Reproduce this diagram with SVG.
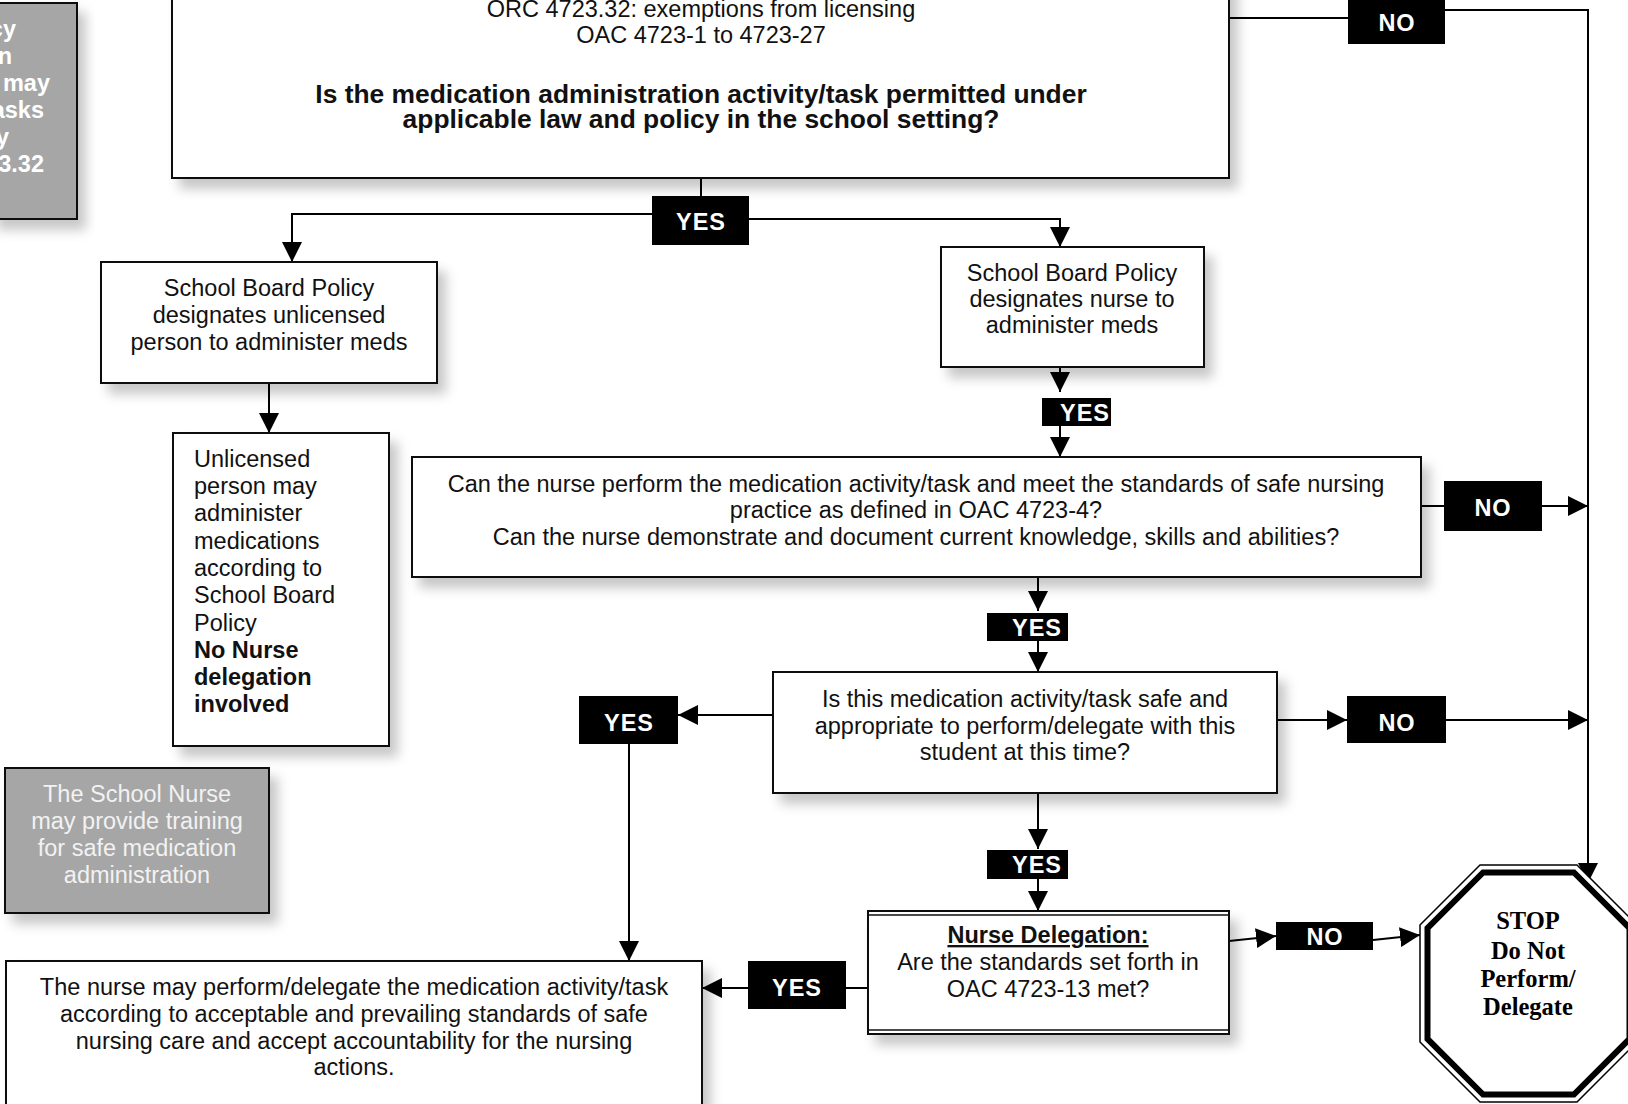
<svg xmlns="http://www.w3.org/2000/svg" width="1628" height="1104" viewBox="0 0 1628 1104">
<defs>
<style>
.box{fill:#fff;stroke:#111;stroke-width:2;filter:url(#sh)}
.grey{fill:#a6a6a6;stroke:#111;stroke-width:2;filter:url(#sh)}
.lbl{fill:#000}
.lt{font-family:"Liberation Sans",Arial,sans-serif;font-weight:bold;font-size:23.5px;fill:#fff;text-anchor:middle;letter-spacing:1px}
.t{font-family:"Liberation Sans",Arial,sans-serif;font-size:23.5px;fill:#111;text-anchor:middle}
.tl{text-anchor:start}
.te{text-anchor:end}
.b{font-weight:bold}
.w{fill:#fff}
.big{font-size:26.4px}
.stop{font-family:"Liberation Serif","Times New Roman",serif;font-weight:bold;font-size:24.5px;fill:#000;text-anchor:middle}
.conn path{stroke:#000;stroke-width:2;fill:none}
.arr{marker-end:url(#ah)}
</style>
<marker id="ah" markerUnits="userSpaceOnUse" markerWidth="20" markerHeight="20" viewBox="0 0 20 20" refX="20" refY="10" orient="auto"><path d="M0,0L20,10L0,20z" fill="#000"/></marker>
<filter id="sh" x="-10%" y="-10%" width="130%" height="140%"><feDropShadow dx="8" dy="10" stdDeviation="6" flood-color="#000" flood-opacity="0.22"/></filter>
</defs>
<rect width="1628" height="1104" fill="#fff"/>

<g id="connectors" class="conn">
<path d="M701,178V196"/>
<path class="arr" d="M652,214H292V262"/>
<path class="arr" d="M749,219H1060V247"/>
<path d="M1229,18H1348"/>
<path class="arr" d="M1445,10H1588V883"/>
<path class="arr" d="M269,383V433"/>
<path class="arr" d="M1060,367V392"/>
<path class="arr" d="M1060,426V457"/>
<path d="M1421,506H1444"/>
<path class="arr" d="M1542,506H1588"/>
<path class="arr" d="M1038,577V611"/>
<path class="arr" d="M1038,641V672"/>
<path class="arr" d="M773,715H678"/>
<path class="arr" d="M1277,720H1347"/>
<path class="arr" d="M1446,720H1588"/>
<path class="arr" d="M629,744V961"/>
<path class="arr" d="M1038,793V849"/>
<path class="arr" d="M1038,879V911"/>
<path d="M868,988H846"/>
<path class="arr" d="M748,988H702"/>
<path class="arr" d="M1229,941L1276,936"/>
<path class="arr" d="M1373,940L1420,935"/>
</g>

<g id="note-policy">
<rect class="grey" x="-10" y="3" width="87" height="216"/>
<text class="t te b w" x="16" y="37">cy</text>
<text class="t te b w" x="12" y="64">n</text>
<text class="t te b w" x="50" y="91">may</text>
<text class="t te b w" x="44" y="118">asks</text>
<text class="t te b w" x="9" y="145">y</text>
<text class="t te b w" x="44" y="172">3.32</text>
</g>

<g id="law-question">
<rect class="box" x="172" y="-20" width="1057" height="198"/>
<text class="t" x="701" y="17">ORC 4723.32: exemptions from licensing</text>
<text class="t" x="701" y="43">OAC 4723-1 to 4723-27</text>
<text class="t b big" x="701" y="103">Is the medication administration activity/task permitted under</text>
<text class="t b big" x="701" y="128">applicable law and policy in the school setting?</text>
</g>

<g id="label-yes-1"><rect class="lbl" x="652" y="196" width="97" height="49"/><text class="lt" x="701" y="230">YES</text></g>
<g id="label-no-1"><rect class="lbl" x="1348" y="0" width="97" height="44"/><text class="lt" x="1397" y="31">NO</text></g>

<g id="policy-unlicensed">
<rect class="box" x="101" y="262" width="336" height="121"/>
<text class="t" x="269" y="296">School Board Policy</text>
<text class="t" x="269" y="323">designates unlicensed</text>
<text class="t" x="269" y="350">person to administer meds</text>
</g>

<g id="unlicensed-result">
<rect class="box" x="173" y="433" width="216" height="313"/>
<text class="t tl" x="194" y="467">Unlicensed</text>
<text class="t tl" x="194" y="494">person may</text>
<text class="t tl" x="194" y="521">administer</text>
<text class="t tl" x="194" y="549">medications</text>
<text class="t tl" x="194" y="576">according to</text>
<text class="t tl" x="194" y="603">School Board</text>
<text class="t tl" x="194" y="631">Policy</text>
<text class="t tl b" x="194" y="658">No Nurse</text>
<text class="t tl b" x="194" y="685">delegation</text>
<text class="t tl b" x="194" y="712">involved</text>
</g>

<g id="policy-nurse">
<rect class="box" x="941" y="247" width="263" height="120"/>
<text class="t" x="1072" y="281">School Board Policy</text>
<text class="t" x="1072" y="307">designates nurse to</text>
<text class="t" x="1072" y="333">administer meds</text>
</g>

<g id="label-yes-2"><rect class="lbl" x="1042" y="398" width="69" height="28"/><text class="lt" x="1085" y="421">YES</text></g>

<g id="nurse-competence">
<rect class="box" x="412" y="457" width="1009" height="120"/>
<text class="t" x="916" y="492">Can the nurse perform the medication activity/task and meet the standards of safe nursing</text>
<text class="t" x="916" y="518">practice as defined in OAC 4723-4?</text>
<text class="t" x="916" y="545">Can the nurse demonstrate and document current knowledge, skills and abilities?</text>
</g>

<g id="label-no-2"><rect class="lbl" x="1444" y="481" width="98" height="50"/><text class="lt" x="1493" y="516">NO</text></g>
<g id="label-yes-3"><rect class="lbl" x="987" y="613" width="81" height="28"/><text class="lt" x="1037" y="636">YES</text></g>

<g id="safety-question">
<rect class="box" x="773" y="672" width="504" height="121" stroke-width="2.5"/>
<text class="t" x="1025" y="707">Is this medication activity/task safe and</text>
<text class="t" x="1025" y="734">appropriate to perform/delegate with this</text>
<text class="t" x="1025" y="760">student at this time?</text>
</g>

<g id="label-yes-4"><rect class="lbl" x="579" y="696" width="99" height="48"/><text class="lt" x="629" y="731">YES</text></g>
<g id="label-no-3"><rect class="lbl" x="1347" y="696" width="99" height="47"/><text class="lt" x="1397" y="731">NO</text></g>
<g id="label-yes-5"><rect class="lbl" x="987" y="850" width="81" height="29"/><text class="lt" x="1037" y="873">YES</text></g>

<g id="training-note">
<rect class="grey" x="5" y="768" width="264" height="145"/>
<text class="t" x="137" y="802" style="fill:#f2f2f2">The School Nurse</text>
<text class="t" x="137" y="829" style="fill:#f2f2f2">may provide training</text>
<text class="t" x="137" y="856" style="fill:#f2f2f2">for safe medication</text>
<text class="t" x="137" y="883" style="fill:#f2f2f2">administration</text>
</g>

<g id="nurse-delegation">
<rect class="box" x="868" y="911" width="361" height="123"/>
<path d="M868,915H1229M868,1030H1229" stroke="#111" stroke-width="1.5" fill="none"/>
<text class="t b" x="1048" y="943" text-decoration="underline">Nurse Delegation:</text>
<text class="t" x="1048" y="970">Are the standards set forth in</text>
<text class="t" x="1048" y="997">OAC 4723-13 met?</text>
</g>

<g id="label-no-4"><rect class="lbl" x="1276" y="922" width="97" height="28"/><text class="lt" x="1325" y="945">NO</text></g>
<g id="label-yes-6"><rect class="lbl" x="748" y="961" width="98" height="48"/><text class="lt" x="797" y="996">YES</text></g>

<g id="perform-result">
<rect class="box" x="6" y="961" width="696" height="160"/>
<text class="t" x="354" y="995">The nurse may perform/delegate the medication activity/task</text>
<text class="t" x="354" y="1022">according to acceptable and prevailing standards of safe</text>
<text class="t" x="354" y="1049">nursing care and accept accountability for the nursing</text>
<text class="t" x="354" y="1075">actions.</text>
</g>

<g id="stop-sign">
<polygon points="1420,925 1480,865 1577,865 1637,925 1637,1042 1577,1102 1480,1102 1420,1042" fill="#fff" stroke="#000" stroke-width="1.5"/>
<polygon points="1427.5,928.1 1483.1,872.5 1573.9,872.5 1629.5,928.1 1629.5,1038.9 1573.9,1094.5 1483.1,1094.5 1427.5,1038.9" fill="#fff" stroke="#000" stroke-width="6"/>
<text class="stop" x="1528" y="929">STOP</text>
<text class="stop" x="1528" y="959">Do Not</text>
<text class="stop" x="1528" y="987">Perform/</text>
<text class="stop" x="1528" y="1015">Delegate</text>
</g>
</svg>
